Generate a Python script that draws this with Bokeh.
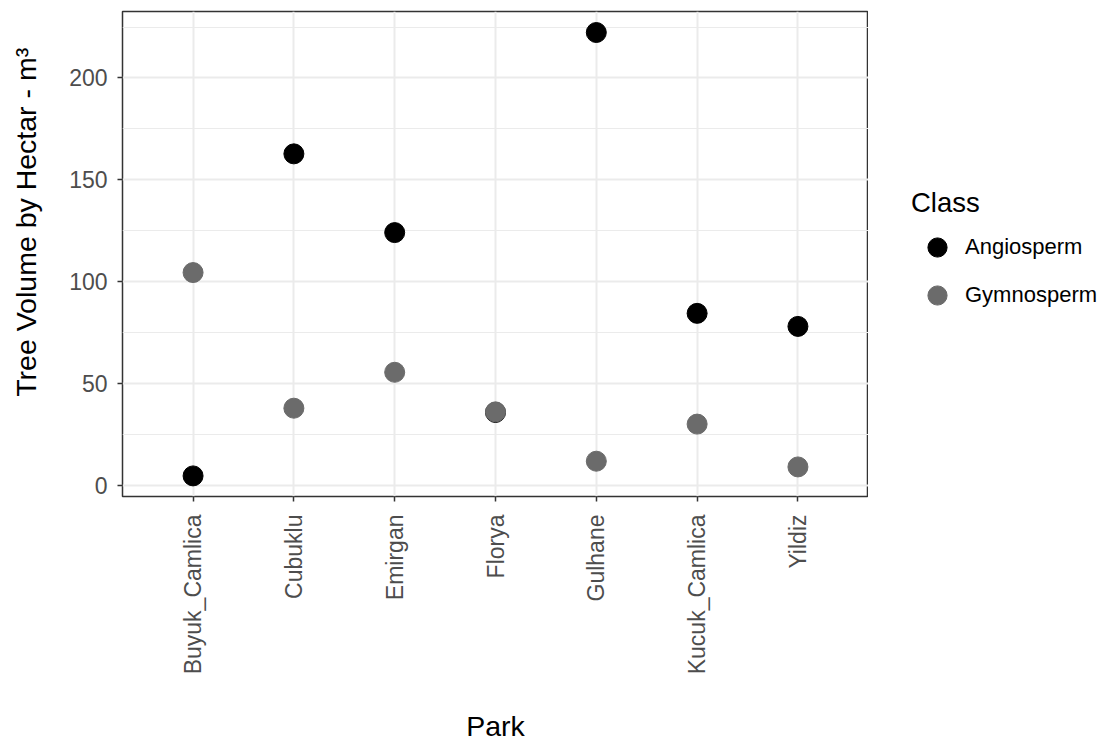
import math
import numpy as np
from bokeh.plotting import figure
from bokeh.layouts import row
from bokeh.models import FactorRange, Range1d, FixedTicker, Legend, LegendItem
from bokeh.embed import file_html
from bokeh.resources import INLINE

parks = ["Buyuk_Camlica", "Cubuklu", "Emirgan", "Florya", "Gulhane", "Kucuk_Camlica", "Yildiz"]
angiosperm = [4.9, 162.8, 124.2, 36.0, 222.3, 84.6, 78.2]
gymnosperm = [104.6, 38.1, 55.7, 36.3, 12.1, 30.3, 9.3]
classes = ["Angiosperm", "Gymnosperm"]
class_colors = ["black", "#6B6B6B"]
y_ticks = [0, 50, 100, 150, 200]
y_minor = [25, 75, 125, 175, 225]
y_title = "\u00a0" * 8 + "Tree Volume by Hectar - m³"

FONT = "Liberation Sans"
H = 745

p = figure(
    width=868, height=H,
    x_range=FactorRange(factors=parks, range_padding=0.2, range_padding_units="absolute"),
    y_range=Range1d(-5.2, 232.6),
    output_backend="svg", toolbar_location=None,
    min_border_left=122, min_border_right=0, min_border_top=11, min_border_bottom=H - 497,
    background_fill_color="white", border_fill_color="white",
    outline_line_color="#333333", outline_line_width=1.5,
    x_axis_label="Park", y_axis_label=y_title,
)

ra = p.scatter(x=parks, y=angiosperm, size=20, color=class_colors[0])
rg = p.scatter(x=parks, y=gymnosperm, size=20, color=class_colors[1])

p.yaxis.ticker = FixedTicker(ticks=y_ticks, minor_ticks=y_minor)

for ax in (p.xaxis[0], p.yaxis[0]):
    ax.axis_line_color = None
    ax.major_tick_line_color = "#333333"
    ax.major_tick_line_width = 1.5
    ax.major_tick_out = 5
    ax.major_tick_in = 0
    ax.minor_tick_line_color = None
    ax.major_label_text_font = FONT
    ax.major_label_text_font_size = "23px"
    ax.major_label_text_color = "#4D4D4D"
    ax.axis_label_text_font = FONT
    ax.axis_label_text_font_size = "28.5px"
    ax.axis_label_text_font_style = "normal"
    ax.axis_label_text_color = "black"

p.xaxis.major_label_orientation = math.pi / 2
p.xaxis.major_label_standoff = 13
p.xaxis.axis_label_standoff = 33
p.yaxis.major_label_standoff = 10
p.yaxis.axis_label_standoff = 24

p.xgrid.grid_line_color = "#EBEBEB"
p.xgrid.grid_line_width = 2
p.ygrid.grid_line_color = "#EBEBEB"
p.ygrid.grid_line_width = 2
p.ygrid.minor_grid_line_color = "#EBEBEB"
p.ygrid.minor_grid_line_width = 1

# legend panel (separate figure so the legend is not clipped by the main frame)
p2 = figure(
    width=232, height=H, x_range=Range1d(0, 1), y_range=Range1d(0, 1),
    output_backend="svg", toolbar_location=None, min_border=0,
    outline_line_color=None, x_axis_location=None, y_axis_location=None,
    background_fill_color="white", border_fill_color="white",
)
p2.grid.visible = False
# legend proxies: no position (NaN), only their style is shown in the legend
leg_renderers = [p2.scatter(x=np.array([np.nan]), y=np.array([np.nan]), size=20, color=c)
                 for c in class_colors]

legend = Legend(
    items=[LegendItem(label=lab, renderers=[r]) for lab, r in zip(classes, leg_renderers)],
    title="Class", location=(43, 177),
    title_text_font=FONT, title_text_font_size="27.5px", title_text_font_style="normal",
    title_text_color="black", title_standoff=4,
    label_text_font=FONT, label_text_font_size="22px", label_text_color="black",
    glyph_width=52, glyph_height=48, label_height=48, spacing=0, label_standoff=2,
    padding=0, margin=0, border_line_color=None, background_fill_alpha=0,
)
p2.add_layout(legend)

layout = row(p, p2, spacing=0)
open("out.html", "w").write(file_html(layout, INLINE))
